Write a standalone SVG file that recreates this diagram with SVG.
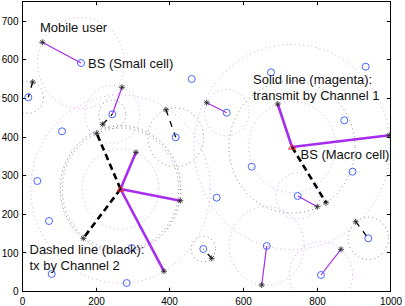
<svg xmlns="http://www.w3.org/2000/svg" xmlns:xlink="http://www.w3.org/1999/xlink" width="405" height="306" viewBox="0 0 405 306">
<style>
.ax{fill:none;stroke:#000;stroke-width:1}
.tk{stroke:#000;stroke-width:1}
.tl{font-family:"Liberation Sans",Arial,sans-serif;font-size:10px;fill:#000}
.an{font-family:"Liberation Sans",Arial,sans-serif;font-size:13px;fill:#111}
.mc{fill:none;stroke:#d088ff;stroke-width:1;stroke-dasharray:1 3.2;opacity:0.8}
.kc{fill:none;stroke:#666;stroke-width:1;stroke-dasharray:1 3.2;opacity:0.75}
.m1{stroke:#a62cf0;stroke-width:1.2;fill:none}
.m2{stroke:#a62cf0;stroke-width:2.6;fill:none}
.k1{stroke:#000;stroke-width:1.3;stroke-dasharray:6 6;fill:none}
.k2{stroke:#000;stroke-width:2.6;stroke-dasharray:6.5 4;fill:none}
.bs{fill:none;stroke:#4a66ff;stroke-width:1}
.mb{fill:none;stroke:#ff2a2a;stroke-width:1}
</style>
<defs>
<clipPath id="plot"><rect x="22.5" y="1.5" width="368" height="290"/></clipPath>
<g id="star" stroke="#222" stroke-width="0.8">
<line x1="-3" y1="0" x2="3" y2="0"/><line x1="0" y1="-3" x2="0" y2="3"/>
<line x1="-2.1" y1="-2.1" x2="2.1" y2="2.1"/><line x1="-2.1" y1="2.1" x2="2.1" y2="-2.1"/>
</g>
<circle id="bsm" r="3.5" class="bs"/>
<path id="tri" d="M0,-2.6 L3.5,2.1 L-3.5,2.1 Z" class="mb"/>
</defs>
<g id="axes">
<rect class="ax" x="22.5" y="1.5" width="368" height="290"/>
<g class="tk">
<line x1="96.5" y1="291.5" x2="96.5" y2="287.8"/><line x1="169.5" y1="291.5" x2="169.5" y2="287.8"/><line x1="243.5" y1="291.5" x2="243.5" y2="287.8"/><line x1="317.5" y1="291.5" x2="317.5" y2="287.8"/>
<line x1="96.5" y1="1.5" x2="96.5" y2="5.2"/><line x1="169.5" y1="1.5" x2="169.5" y2="5.2"/><line x1="243.5" y1="1.5" x2="243.5" y2="5.2"/><line x1="317.5" y1="1.5" x2="317.5" y2="5.2"/>
<line x1="22.5" y1="252.5" x2="26.2" y2="252.5"/><line x1="22.5" y1="214.5" x2="26.2" y2="214.5"/><line x1="22.5" y1="175.5" x2="26.2" y2="175.5"/><line x1="22.5" y1="137.5" x2="26.2" y2="137.5"/><line x1="22.5" y1="98.5" x2="26.2" y2="98.5"/><line x1="22.5" y1="59.5" x2="26.2" y2="59.5"/><line x1="22.5" y1="21.5" x2="26.2" y2="21.5"/>
<line x1="390.5" y1="252.5" x2="386.8" y2="252.5"/><line x1="390.5" y1="214.5" x2="386.8" y2="214.5"/><line x1="390.5" y1="175.5" x2="386.8" y2="175.5"/><line x1="390.5" y1="137.5" x2="386.8" y2="137.5"/><line x1="390.5" y1="98.5" x2="386.8" y2="98.5"/><line x1="390.5" y1="59.5" x2="386.8" y2="59.5"/><line x1="390.5" y1="21.5" x2="386.8" y2="21.5"/>
</g>
<g class="tl" text-anchor="middle">
<text x="22.5" y="305">0</text><text x="96.5" y="305">200</text><text x="169.5" y="305">400</text><text x="243.5" y="305">600</text><text x="317.5" y="305">800</text><text x="391" y="305">1000</text>
</g>
<g class="tl" text-anchor="end">
<text x="18.5" y="295.3">0</text><text x="18.5" y="256.5">100</text><text x="18.5" y="218">200</text><text x="18.5" y="179.3">300</text><text x="18.5" y="140.8">400</text><text x="18.5" y="102.1">500</text><text x="18.5" y="63.4">600</text><text x="18.5" y="24.8">700</text>
</g>
</g>
<g clip-path="url(#plot)">
<g id="ranges">
<ellipse class="mc" cx="81" cy="63" rx="43.4" ry="45.5"/>
<ellipse class="mc" cx="112.3" cy="114.3" rx="27.5" ry="28.9"/>
<ellipse class="mc" cx="226.7" cy="112.7" rx="22.2" ry="23.2"/>
<ellipse class="mc" cx="266.7" cy="246" rx="37.5" ry="39.4"/>
<ellipse class="mc" cx="321" cy="275" rx="31.6" ry="33.2"/>
<ellipse class="mc" cx="297.7" cy="196" rx="22.1" ry="23.2"/>
<ellipse class="mc" cx="292" cy="147" rx="43.4" ry="45.5"/>
<ellipse class="mc" cx="292" cy="147" rx="97.9" ry="102.6"/>
<ellipse class="mc" cx="120.5" cy="189" rx="38.3" ry="40.1"/>
<ellipse class="mc" cx="120.5" cy="189" rx="60.8" ry="63.8"/>
<ellipse class="mc" cx="120.5" cy="189" rx="89.7" ry="94.1"/>
<ellipse class="kc" cx="28.3" cy="97.3" rx="15.2" ry="16"/>
<ellipse class="kc" cx="175.7" cy="137.3" rx="28" ry="29.4"/>
<ellipse class="kc" cx="368.3" cy="238.3" rx="20.2" ry="21.2"/>
<ellipse class="kc" cx="203.3" cy="249" rx="12.2" ry="12.8"/>
<ellipse class="kc" cx="292" cy="147" rx="63.1" ry="66.1"/>
<ellipse class="kc" cx="120.5" cy="189" rx="58.2" ry="61"/>
<ellipse class="kc" cx="120.5" cy="189" rx="60" ry="62.9"/>
<ellipse class="kc" cx="112.3" cy="114.3" rx="13.5" ry="14.2"/>
</g>
<g id="connectors">
<line class="m1" x1="42.3" y1="42.3" x2="81" y2="63"/>
<line class="m1" x1="122" y1="87.3" x2="112.3" y2="114.3"/>
<line class="m1" x1="206.7" y1="102.7" x2="226.7" y2="112.7"/>
<line class="m1" x1="261.7" y1="285" x2="266.7" y2="246"/>
<line class="m1" x1="341" y1="249.3" x2="321" y2="275"/>
<line class="m1" x1="317.3" y1="206.7" x2="297.7" y2="196"/>
<line class="m2" x1="292" y1="147" x2="277.7" y2="104"/>
<line class="m2" x1="292" y1="147" x2="389.3" y2="135.3"/>
<line class="m2" x1="120.5" y1="189" x2="136" y2="152.3"/>
<line class="m2" x1="120.5" y1="189" x2="180.3" y2="200.7"/>
<line class="m2" x1="120.5" y1="189" x2="164" y2="271.3"/>
<line class="k2" x1="292" y1="147" x2="326" y2="202.7"/>
<line class="k2" x1="120.5" y1="189" x2="96.7" y2="133.3"/>
<line class="k2" x1="120.5" y1="189" x2="83.3" y2="238.3"/>
<line class="k1" x1="32.7" y1="82" x2="28.3" y2="97.3"/>
<line class="k1" x1="166" y1="109.7" x2="175.7" y2="137.3"/>
<line class="k1" x1="355.7" y1="221.7" x2="368.3" y2="238.3"/>
<line class="k1" x1="211.7" y1="258.3" x2="203.3" y2="249"/>
<line class="k1" x1="102.7" y1="124.3" x2="112.3" y2="114.3"/>
</g>
<g id="macro-bs-1"><use xlink:href="#tri" x="292" y="147"/></g>
<g id="macro-bs-2"><use xlink:href="#tri" x="120.5" y="189"/></g>
<g id="small-cells">
<g id="bs-1"><use xlink:href="#bsm" x="81" y="63"/></g>
<g id="bs-2"><use xlink:href="#bsm" x="191.7" y="79"/></g>
<g id="bs-3"><use xlink:href="#bsm" x="28.3" y="97.3"/></g>
<g id="bs-4"><use xlink:href="#bsm" x="112.3" y="114.3"/></g>
<g id="bs-5"><use xlink:href="#bsm" x="62" y="131.3"/></g>
<g id="bs-6"><use xlink:href="#bsm" x="175.7" y="137.3"/></g>
<g id="bs-7"><use xlink:href="#bsm" x="226.7" y="112.7"/></g>
<g id="bs-8"><use xlink:href="#bsm" x="271" y="72.3"/></g>
<g id="bs-9"><use xlink:href="#bsm" x="365.7" y="66.7"/></g>
<g id="bs-10"><use xlink:href="#bsm" x="344.3" y="120.3"/></g>
<g id="bs-11"><use xlink:href="#bsm" x="37.3" y="181"/></g>
<g id="bs-12"><use xlink:href="#bsm" x="49" y="221"/></g>
<g id="bs-13"><use xlink:href="#bsm" x="51.7" y="274"/></g>
<g id="bs-14"><use xlink:href="#bsm" x="126.7" y="283"/></g>
<g id="bs-15"><use xlink:href="#bsm" x="131.7" y="248"/></g>
<g id="bs-16"><use xlink:href="#bsm" x="216.7" y="197.7"/></g>
<g id="bs-17"><use xlink:href="#bsm" x="251.7" y="166.7"/></g>
<g id="bs-18"><use xlink:href="#bsm" x="297.7" y="196"/></g>
<g id="bs-19"><use xlink:href="#bsm" x="352.5" y="171.7"/></g>
<g id="bs-20"><use xlink:href="#bsm" x="203.3" y="249"/></g>
<g id="bs-21"><use xlink:href="#bsm" x="266.7" y="246"/></g>
<g id="bs-22"><use xlink:href="#bsm" x="368.3" y="238.3"/></g>
<g id="bs-23"><use xlink:href="#bsm" x="321" y="275"/></g>
</g>
<g id="users">
<g id="ue-1"><use xlink:href="#star" x="42.3" y="42.3"/></g>
<g id="ue-2"><use xlink:href="#star" x="122" y="87.3"/></g>
<g id="ue-3"><use xlink:href="#star" x="206.7" y="102.7"/></g>
<g id="ue-4"><use xlink:href="#star" x="261.7" y="285"/></g>
<g id="ue-5"><use xlink:href="#star" x="341" y="249.3"/></g>
<g id="ue-6"><use xlink:href="#star" x="317.3" y="206.7"/></g>
<g id="ue-7"><use xlink:href="#star" x="277.7" y="104"/></g>
<g id="ue-8"><use xlink:href="#star" x="389.3" y="135.3"/></g>
<g id="ue-9"><use xlink:href="#star" x="136" y="152.3"/></g>
<g id="ue-10"><use xlink:href="#star" x="180.3" y="200.7"/></g>
<g id="ue-11"><use xlink:href="#star" x="164" y="271.3"/></g>
<g id="ue-12"><use xlink:href="#star" x="326" y="202.7"/></g>
<g id="ue-13"><use xlink:href="#star" x="96.7" y="133.3"/></g>
<g id="ue-14"><use xlink:href="#star" x="83.3" y="238.3"/></g>
<g id="ue-15"><use xlink:href="#star" x="32.7" y="82"/></g>
<g id="ue-16"><use xlink:href="#star" x="166" y="109.7"/></g>
<g id="ue-17"><use xlink:href="#star" x="355.7" y="221.7"/></g>
<g id="ue-18"><use xlink:href="#star" x="211.7" y="258.3"/></g>
<g id="ue-19"><use xlink:href="#star" x="102.7" y="124.3"/></g>
</g>
</g>
<g id="labels" class="an">
<text x="40" y="32">Mobile user</text>
<text x="88" y="67.5">BS (Small cell)</text>
<text x="253" y="84">Solid line (magenta):</text>
<text x="253" y="99.5">transmit by Channel 1</text>
<text x="300.5" y="158.5">BS (Macro cell)</text>
<text x="29.5" y="253.5">Dashed line (black):</text>
<text x="29.5" y="269.5">tx by Channel 2</text>
</g>
</svg>
